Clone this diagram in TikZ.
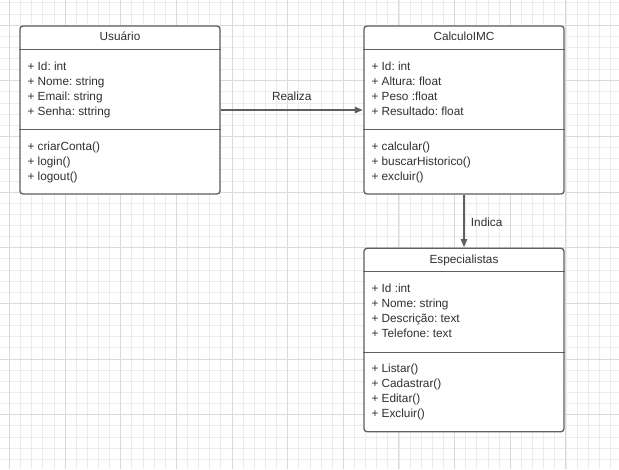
\documentclass[tikz,border=0pt]{standalone}
\usepackage{fontspec}
\setmainfont{Liberation Sans}
\usetikzlibrary{arrows.meta}
\frenchspacing
\definecolor{minorgrid}{HTML}{ECECEC}
\definecolor{majorgrid}{HTML}{DADADA}
\definecolor{boxgray}{HTML}{5F5F5F}
\definecolor{txtgray}{HTML}{303030}
\tikzset{
  minorline/.style={draw=minorgrid, line width=0.6pt},
  majorline/.style={draw=majorgrid, line width=0.8pt},
  classbox/.style={draw=boxgray, fill=white, line width=1.3pt, rounded corners=3pt, inner sep=0pt},
  sepline/.style={draw=boxgray, line width=1.3pt},
  member/.style={anchor=base west, inner sep=0pt, text=txtgray, font=\fontsize{11.8}{15}\selectfont},
  title/.style={anchor=base, inner sep=0pt, text=txtgray, font=\fontsize{11.8}{15}\selectfont},
  conn/.style={draw=boxgray, line width=1.2pt, -{Triangle[length=8pt,width=6.5pt]}, shorten >=0.6pt}
}
\begin{document}
\begin{tikzpicture}[x=1pt,y=-1pt]
\useasboundingbox (0,0) rectangle (619,469);
\fill[white] (0,0) rectangle (619,469);
% grid
\foreach \k in {0,...,56} \draw[minorline] ({-1.83+11.13*\k},0) -- ++(0,469);
\foreach \k in {0,...,42} \draw[minorline] (0,{2.74+11.13*\k}) -- ++(619,0);
\foreach \k in {0,...,11} \draw[majorline] ({9.3+55.65*\k},0) -- ++(0,469);
\foreach \k in {0,...,8} \draw[majorline] (0,{25+55.65*\k}) -- ++(619,0);

% Usuario
\node[classbox, minimum width=200pt, minimum height=168pt] (usuario) at (120,110) {};
\draw[sepline] (usuario.west |- 0,49.3) -- (usuario.east |- 0,49.3);
\draw[sepline] (usuario.west |- 0,129.3) -- (usuario.east |- 0,129.3);
\node[title] (ut) at (120,40.3) {Usuário};
\node[member] (u1) at (27.3,70) {+ Id: int};
\node[member] (u2) at (27.3,85) {+ Nome: string};
\node[member] (u3) at (27.3,100) {+ Email: string};
\node[member] (u4) at (27.3,115) {+ Senha: sttring};
\node[member] (u5) at (27.3,150) {+ criarConta()};
\node[member] (u6) at (27.3,165) {+ login()};
\node[member] (u7) at (27.3,180) {+ logout()};

% CalculoIMC
\node[classbox, minimum width=200pt, minimum height=168pt] (calc) at (464,110) {};
\draw[sepline] (calc.west |- 0,49.3) -- (calc.east |- 0,49.3);
\draw[sepline] (calc.west |- 0,129.3) -- (calc.east |- 0,129.3);
\node[title] (ct) at (464,40.3) {CalculoIMC};
\node[member] (c1) at (371.3,70) {+ Id: int};
\node[member] (c2) at (371.3,85) {+ Altura: float};
\node[member] (c3) at (371.3,100) {+ Peso :float};
\node[member] (c4) at (371.3,115) {+ Resultado: float};
\node[member] (c5) at (371.3,150) {+ calcular()};
\node[member] (c6) at (371.3,165) {+ buscarHistorico()};
\node[member] (c7) at (371.3,180) {+ excluir()};

% Especialistas
\node[classbox, minimum width=200pt, minimum height=183.4pt] (esp) at (464,340) {};
\draw[sepline] (esp.west |- 0,271.3) -- (esp.east |- 0,271.3);
\draw[sepline] (esp.west |- 0,352.3) -- (esp.east |- 0,352.3);
\node[title] (et) at (464,263.5) {Especialistas};
\node[member] (e1) at (371.3,292) {+ Id :int};
\node[member] (e2) at (371.3,307) {+ Nome: string};
\node[member] (e3) at (371.3,322) {+ Descrição: text};
\node[member] (e4) at (371.3,337) {+ Telefone: text};
\node[member] (e5) at (371.3,372) {+ Listar()};
\node[member] (e6) at (371.3,387) {+ Cadastrar()};
\node[member] (e7) at (371.3,402) {+ Editar()};
\node[member] (e8) at (371.3,417) {+ Excluir()};

% connectors
\draw[conn] (usuario.east) -- (calc.west);
\draw[conn] (calc.south) -- (esp.north);
\node[title] (lr) at (291.7,100.2) {Realiza};
\node[title] (li) at (486.7,226.3) {Indica};
\end{tikzpicture}
\end{document}
